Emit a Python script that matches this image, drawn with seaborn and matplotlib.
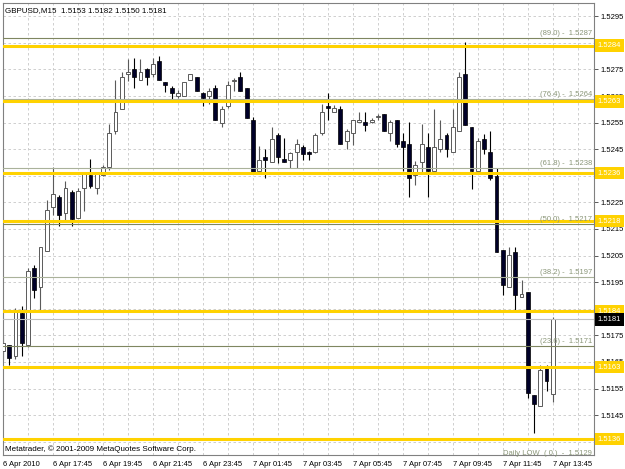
import numpy as np
import matplotlib
matplotlib.use("Agg")
import matplotlib.pyplot as plt
import matplotlib.transforms as mtransforms
import seaborn as sns

# GBPUSD M15 candles, prices in pips above 1.5100
opens = [69.2, 71.2, 67.1, 83.4, 71.2, 100.3, 93.1, 106.9, 123.1, 127.2,
         121.0, 129.1, 119.1, 130.4, 135.4, 130.4, 135.4, 138.3, 151.7, 160.2,
         173.2, 175.2, 171.1, 175.2, 173.2, 178.2, 170.2, 168.2, 165.2, 165.2,
         171.1, 172.0, 166.1, 165.2, 168.2, 154.8, 161.1, 170.5, 172.0, 168.2,
         156.0, 136.9, 141.9, 140.1, 150.4, 141.3, 141.0, 144.1, 146.0, 144.1,
         143.9, 151.0, 161.3, 158.9, 160.2, 148.2, 151.0, 155.2, 155.2, 155.2,
         157.2, 158.2, 151.0, 156.0, 148.2, 146.9, 135.4, 140.1, 146.0, 136.9,
         145.1, 150.2, 143.9, 151.9, 173.2, 153.2, 136.9, 148.9, 144.1, 135.1,
         107.2, 93.0, 106.3, 89.3, 91.3, 52.4, 48.3, 63.3, 53.0]
highs = [74.6, 71.5, 85.3, 85.9, 100.3, 101.5, 108.2, 126.0, 138.5, 127.9,
         132.9, 129.7, 130.4, 135.6, 141.4, 136.6, 139.1, 154.4, 171.1, 174.0,
         179.0, 179.2, 179.0, 175.5, 179.2, 180.2, 170.2, 168.6, 167.3, 170.2,
         173.2, 172.0, 166.7, 168.2, 169.2, 161.1, 170.5, 171.7, 174.2, 168.2,
         157.3, 146.4, 145.1, 153.2, 151.0, 149.2, 144.1, 148.9, 146.7, 144.4,
         151.0, 161.9, 166.1, 161.7, 161.1, 152.7, 156.0, 158.9, 158.9, 156.9,
         158.2, 158.2, 156.0, 156.0, 151.0, 155.2, 140.6, 154.4, 151.0, 160.2,
         156.0, 151.0, 160.2, 174.0, 185.2, 153.2, 149.2, 150.7, 151.9, 138.1,
         107.2, 108.4, 108.4, 95.9, 91.3, 52.7, 64.0, 63.7, 82.0]
lows = [65.8, 64.0, 66.2, 67.1, 70.8, 89.0, 84.6, 106.9, 120.3, 116.3,
        118.5, 116.3, 119.1, 121.6, 130.4, 128.1, 135.1, 137.3, 150.7, 160.2,
        170.5, 168.2, 171.1, 169.2, 172.3, 171.1, 166.7, 163.6, 164.2, 165.2,
        171.1, 166.9, 161.1, 161.9, 156.0, 153.2, 160.4, 166.9, 166.9, 156.9,
        136.6, 136.6, 134.1, 140.1, 139.8, 140.1, 138.1, 138.1, 141.0, 141.0,
        143.5, 150.2, 156.0, 158.9, 146.9, 145.1, 146.7, 155.2, 151.9, 154.8,
        156.0, 151.9, 148.2, 146.0, 136.9, 126.9, 131.6, 136.6, 126.9, 136.9,
        144.1, 141.9, 143.9, 151.9, 154.2, 130.1, 136.9, 143.1, 133.5, 106.3,
        90.3, 93.0, 84.6, 89.3, 51.4, 38.3, 48.3, 53.9, 50.0]
closes = [72.1, 66.5, 84.0, 72.1, 99.3, 92.1, 108.2, 122.2, 128.1, 120.3,
          130.4, 118.8, 129.4, 135.6, 131.0, 135.6, 138.3, 151.0, 158.9, 172.0,
          174.0, 172.0, 174.0, 172.0, 177.0, 171.1, 169.0, 166.1, 166.1, 170.2,
          173.2, 166.9, 164.2, 166.9, 156.0, 160.2, 169.2, 171.1, 166.9, 156.9,
          136.6, 141.0, 141.0, 148.9, 141.9, 140.1, 143.4, 146.9, 143.1, 143.1,
          150.4, 158.9, 160.4, 160.4, 146.9, 151.9, 156.0, 156.0, 154.2, 156.0,
          157.4, 151.9, 155.2, 146.9, 146.0, 134.1, 138.9, 146.9, 136.9, 146.0,
          148.9, 145.1, 153.2, 172.0, 154.2, 136.9, 148.2, 145.1, 134.1, 106.3,
          94.0, 105.3, 90.3, 90.5, 53.3, 49.2, 62.1, 57.7, 81.0]

time_labels = ["6 Apr 2010", "6 Apr 17:45", "6 Apr 19:45", "6 Apr 21:45",
               "6 Apr 23:45", "7 Apr 01:45", "7 Apr 03:45", "7 Apr 05:45",
               "7 Apr 07:45", "7 Apr 09:45", "7 Apr 11:45", "7 Apr 13:45"]

level_prices = [1.5284, 1.5263, 1.5236, 1.5218, 1.5184, 1.5163, 1.5136]
fib_names = ["89.0", "76.4", "61.8", "50.0", "38.2", "23.6"]
fib_prices = [1.5287, 1.5264, 1.5238, 1.5217, 1.5197, 1.5171]
daily_low = 1.5129
bid = 1.5181
# price labels that sit under a level box in the original
hidden_ticks = [1.5285, 1.5235, 1.5185, 1.5135]

base = 1.5100
o = base + np.array(opens) / 10000
h = base + np.array(highs) / 10000
l = base + np.array(lows) / 10000
c = base + np.array(closes) / 10000
idx = np.arange(len(o))

sns.set_style("white")
plt.rcParams['font.family'] = ['Liberation Sans', 'DejaVu Sans']

fig = plt.figure(figsize=(6.25, 4.69), dpi=100)
ax = fig.add_axes([3 / 625, 1 - 455 / 469, 591 / 625, 452 / 469])
ax.set_facecolor('white')

ax.set_xlim(0, 94.6)
ax.set_ylim(1.5130, 1.5300)

# grid
ygrid = np.round(np.arange(1.5135, 1.5300, 0.0010), 4)
for yv in ygrid:
    ax.axhline(yv, color='#c8c8c8', lw=0.6, ls=(0, (3, 3)), zorder=0)
for xv in range(4, 95, 4):
    ax.axvline(xv, color='#c8c8c8', lw=0.6, ls=(0, (3, 3)), zorder=0)

# candles
up = c >= o
wick_col = np.where(up, '#5a5a5a', '#000000')
ax.vlines(idx, l, h, colors=wick_col, lw=0.8, zorder=2)
body_h = np.maximum(np.abs(c - o), 0.00003)
ax.bar(idx[up], body_h[up], bottom=np.minimum(o, c)[up], width=0.62,
       color='white', edgecolor='#5a5a5a', lw=0.7, zorder=3)
ax.bar(idx[~up], body_h[~up], bottom=np.minimum(o, c)[~up], width=0.62,
       color='#000028', edgecolor='#000000', lw=0.5, zorder=3)

# fibonacci levels
fib_cols = ['#7f8660', '#aab29a', '#aab29a', '#7f8660', '#aab29a', '#7f8660']
xr = 592 / 594 * 94.6
for name, p, col in zip(fib_names, fib_prices, fib_cols):
    ax.axhline(p, color=col, lw=0.8, zorder=4)
    ax.text(xr, p + 0.00002, f"({name}) -  {p:.4f}", ha='right',
            va='bottom', fontsize=5.5, color='#8a9678', zorder=6)
ax.text(xr, daily_low + 0.00004, f"Daily LOW  ( 0 )  -  {daily_low:.4f}",
        ha='right', va='bottom', fontsize=5.5, color='#8a9678', zorder=6,
        clip_on=False)

# bid line
ax.axhline(bid, color='#c0c0c0', lw=0.8, zorder=4)

# support / resistance levels
for p in level_prices:
    ax.axhline(p, color='#ffd200', lw=2.2, zorder=5)

# axes styling
for s in ax.spines.values():
    s.set_color('#808080')
    s.set_linewidth(0.8)
ax.yaxis.tick_right()
ax.set_yticks(ygrid)
ax.set_yticklabels(["" if v in hidden_ticks else f"{v:.4f}" for v in ygrid])
ax.set_xticks(range(0, 89, 8))
ax.set_xticklabels(time_labels)
ax.tick_params(axis='both', length=3, width=0.6, color='#404040',
               labelsize=5.5, labelcolor='black', pad=1.5)
ax.tick_params(axis='y', pad=2)
for t in ax.get_xticklabels():
    t.set_ha('left')

trans = mtransforms.blended_transform_factory(ax.transAxes, ax.transData)
for p in level_prices:
    ax.text(1.006, p, f"{p:.4f}", transform=trans, ha='left', va='center',
            fontsize=5.5, color='white', zorder=10, clip_on=False,
            bbox=dict(boxstyle='square,pad=0.35', fc='#ffd200', ec='none'))
ax.text(1.006, bid, f"{bid:.4f}", transform=trans, ha='left', va='center',
        fontsize=5.5, color='white', zorder=10, clip_on=False,
        bbox=dict(boxstyle='square,pad=0.35', fc='black', ec='none'))

fig.text(5 / 625, 1 - 11 / 469, "GBPUSD,M15  1.5153 1.5182 1.5150 1.5181",
         fontsize=5.8, va='center', ha='left', color='black')
fig.text(5 / 625, 1 - 449 / 469, "Metatrader, \u00a9 2001-2009 MetaQuotes Software Corp.",
         fontsize=5.8, va='center', ha='left', color='black')

fig.savefig("out.png", dpi=100, facecolor='white')
